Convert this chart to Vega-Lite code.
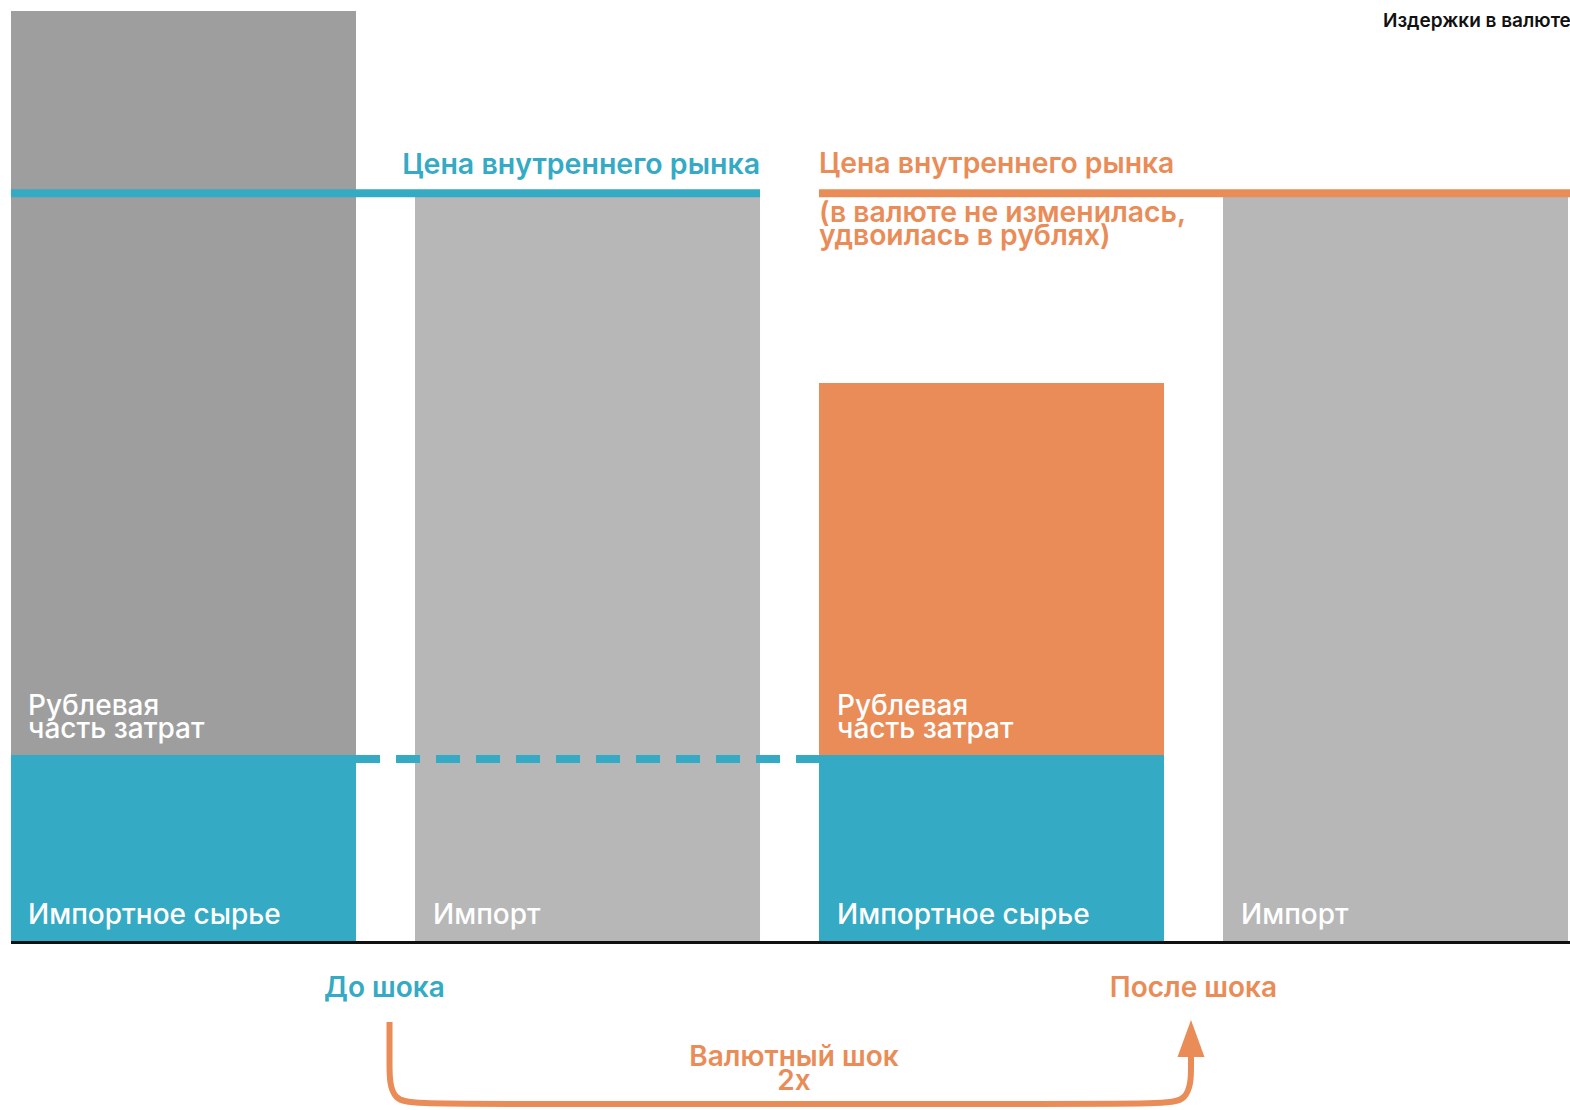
{
  "$schema": "https://vega.github.io/schema/vega-lite/v6.json",
  "width": 1570,
  "height": 1110,
  "padding": 0,
  "autosize": {"type": "none"},
  "background": "white",
  "config": {"view": {"stroke": null}},
  "layer": [
    {
      "data": {"values": [
        {"x0": 0, "x1": 0.854, "y0": 0, "y1": 1, "segment": "import_raw"},
        {"x0": 0, "x1": 0.854, "y0": 1, "y1": 5, "segment": "ruble_before"},
        {"x0": 1, "x1": 1.854, "y0": 0, "y1": 4, "segment": "import"},
        {"x0": 2, "x1": 2.854, "y0": 0, "y1": 1, "segment": "import_raw"},
        {"x0": 2, "x1": 2.854, "y0": 1, "y1": 3, "segment": "ruble_after"},
        {"x0": 3, "x1": 3.854, "y0": 0, "y1": 4, "segment": "import"}
      ]},
      "mark": {"type": "rect"},
      "encoding": {
        "x": {"field": "x0", "type": "quantitative", "scale": {"domain": [-0.027228, 3.858911], "nice": false, "zero": false}, "axis": null},
        "x2": {"field": "x1"},
        "y": {"field": "y0", "type": "quantitative", "scale": {"domain": [-0.9086, 5.05914], "nice": false, "zero": false}, "axis": null},
        "y2": {"field": "y1"},
        "color": {"field": "segment", "type": "nominal", "legend": null,
          "scale": {"domain": ["import_raw", "ruble_before", "import", "ruble_after"], "range": ["#34aac4", "#9e9e9e", "#b7b7b7", "#ea8c57"]}}
      }
    },
    {
      "data": {"values": [
        {"x0": 0, "x1": 1.854, "y": 4.02, "line": "price_before"},
        {"x0": 2, "x1": 3.858911, "y": 4.02, "line": "price_after"}
      ]},
      "mark": {"type": "rule", "strokeWidth": 8},
      "encoding": {
        "x": {"field": "x0", "type": "quantitative"},
        "x2": {"field": "x1"},
        "y": {"field": "y", "type": "quantitative"},
        "color": {"field": "line", "type": "nominal", "legend": null,
          "scale": {"domain": ["price_before", "price_after"], "range": ["#34aac4", "#ea8c57"]}}
      }
    },
    {
      "data": {"values": [
        {"x0": 0.854, "x1": 2, "y": 0.978}
      ]},
      "mark": {"type": "rule", "strokeWidth": 8, "strokeDash": [24, 16], "color": "#34aac4"},
      "encoding": {
        "x": {"field": "x0", "type": "quantitative"},
        "x2": {"field": "x1"},
        "y": {"field": "y", "type": "quantitative"}
      }
    },
    {
      "data": {"values": [
        {"x0": 0, "x1": 3.858911, "y": -0.008}
      ]},
      "mark": {"type": "rule", "strokeWidth": 3, "color": "#111111"},
      "encoding": {
        "x": {"field": "x0", "type": "quantitative"},
        "x2": {"field": "x1"},
        "y": {"field": "y", "type": "quantitative"}
      }
    },
    {
      "data": {"values": [
        {"order": 1, "x": 0.9369, "y": -0.4355},
        {"order": 2, "x": 0.9369, "y": -0.6505},
        {"order": 3, "x": 0.9369, "y": -0.8763},
        {"order": 4, "x": 1.0421, "y": -0.8763},
        {"order": 5, "x": 2.8144, "y": -0.8763},
        {"order": 6, "x": 2.9208, "y": -0.8763},
        {"order": 7, "x": 2.9208, "y": -0.6505},
        {"order": 8, "x": 2.9208, "y": -0.5591}
      ]},
      "mark": {"type": "line", "interpolate": "basis", "strokeWidth": 6, "color": "#ea8c57", "strokeCap": "butt"},
      "encoding": {
        "x": {"field": "x", "type": "quantitative"},
        "y": {"field": "y", "type": "quantitative"},
        "order": {"field": "order", "type": "quantitative"}
      }
    },
    {
      "data": {"values": [
        {"x": 2.9208, "y": -0.5242}
      ]},
      "mark": {"type": "point", "shape": "M-0.73,1L0,-1L0.73,1Z", "size": 1369, "filled": true, "opacity": 1, "color": "#ea8c57", "strokeWidth": 0},
      "encoding": {
        "x": {"field": "x", "type": "quantitative"},
        "y": {"field": "y", "type": "quantitative"}
      }
    },
    {
      "data": {"values": [
        {"x": 1.854, "y": 4.1237, "label": "Цена внутреннего рынка"}
      ]},
      "mark": {"type": "text", "align": "right", "baseline": "alphabetic", "font": "Inter", "fontSize": 28.5, "fontWeight": 600, "color": "#34aac4"},
      "encoding": {
        "x": {"field": "x", "type": "quantitative"},
        "y": {"field": "y", "type": "quantitative"},
        "text": {"field": "label"}
      }
    },
    {
      "data": {"values": [
        {"x": 2.0, "y": 4.129, "label": "Цена внутреннего рынка"},
        {"x": 2.0, "y": 3.867, "label": "(в валюте не изменилась,"},
        {"x": 2.0, "y": 3.742, "label": "удвоилась в рублях)"}
      ]},
      "mark": {"type": "text", "align": "left", "baseline": "alphabetic", "font": "Inter", "fontSize": 28.3, "fontWeight": 600, "color": "#ea8c57"},
      "encoding": {
        "x": {"field": "x", "type": "quantitative"},
        "y": {"field": "y", "type": "quantitative"},
        "text": {"field": "label"}
      }
    },
    {
      "data": {"values": [
        {"x": 0.0421, "y": 1.215, "label": "Рублевая"},
        {"x": 0.0421, "y": 1.0914, "label": "часть затрат"},
        {"x": 0.0421, "y": 0.0914, "label": "Импортное сырье"},
        {"x": 1.0446, "y": 0.0914, "label": "Импорт"},
        {"x": 2.0446, "y": 1.215, "label": "Рублевая"},
        {"x": 2.0446, "y": 1.0914, "label": "часть затрат"},
        {"x": 2.0446, "y": 0.0914, "label": "Импортное сырье"},
        {"x": 3.0446, "y": 0.0914, "label": "Импорт"}
      ]},
      "mark": {"type": "text", "align": "left", "baseline": "alphabetic", "font": "Inter", "fontSize": 28, "fontWeight": 500, "color": "#ffffff"},
      "encoding": {
        "x": {"field": "x", "type": "quantitative"},
        "y": {"field": "y", "type": "quantitative"},
        "text": {"field": "label"}
      }
    },
    {
      "data": {"values": [
        {"x": 0.9245, "y": -0.301, "label": "До шока", "side": "before"},
        {"x": 2.927, "y": -0.301, "label": "После шока", "side": "after"},
        {"x": 1.938, "y": -0.672, "label": "Валютный шок", "side": "after"},
        {"x": 1.938, "y": -0.801, "label": "2x", "side": "after"}
      ]},
      "mark": {"type": "text", "align": "center", "baseline": "alphabetic", "font": "Inter", "fontSize": 28, "fontWeight": 600},
      "encoding": {
        "x": {"field": "x", "type": "quantitative"},
        "y": {"field": "y", "type": "quantitative"},
        "text": {"field": "label"},
        "color": {"field": "side", "type": "nominal", "legend": null,
          "scale": {"domain": ["before", "after"], "range": ["#34aac4", "#ea8c57"]}}
      }
    },
    {
      "data": {"values": [
        {"x": 3.396, "y": 4.914, "label": "Издержки в валюте"}
      ]},
      "mark": {"type": "text", "align": "left", "baseline": "alphabetic", "font": "Inter", "fontSize": 19, "fontWeight": 600, "color": "#111111"},
      "encoding": {
        "x": {"field": "x", "type": "quantitative"},
        "y": {"field": "y", "type": "quantitative"},
        "text": {"field": "label"}
      }
    }
  ],
  "resolve": {"scale": {"color": "independent"}}
}
